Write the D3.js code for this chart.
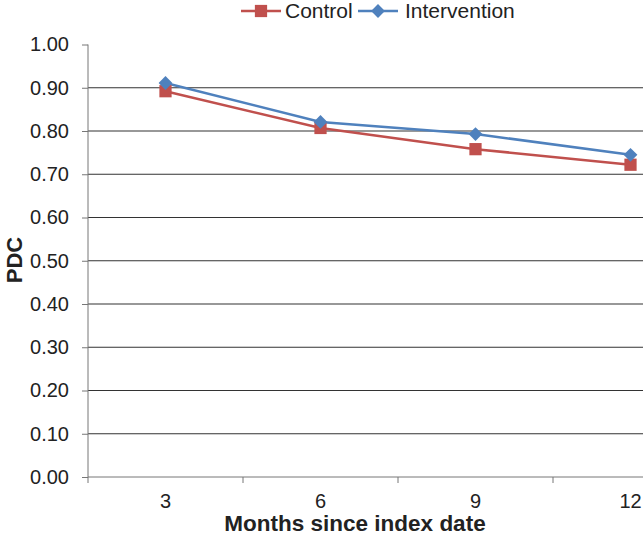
<!DOCTYPE html>
<html>
<head>
<meta charset="utf-8">
<script src="https://cdn.jsdelivr.net/npm/d3@7"></script>
<style>
body{margin:0;background:#fff;}
text{font-family:"Liberation Sans",Arial,sans-serif;fill:#222;}
</style>
</head>
<body>
<div id="chart"></div>
<script>
var months = ["3","6","9","12"];
var control = [0.892, 0.807, 0.758, 0.722];
var intervention = [0.911, 0.821, 0.793, 0.745];
var yTicks = [0,0.1,0.2,0.3,0.4,0.5,0.6,0.7,0.8,0.9,1.0];

var width = 643, height = 536;
var svg = d3.select("#chart").append("svg").attr("width",width).attr("height",height);

// plot runs past the right edge, like the cropped original
var x = d3.scaleBand().domain(months).range([88, 708]);
var y = d3.scaleLinear().domain([0,1]).range([477, 44.5]);

// gridlines
svg.append("g").selectAll("line").data(yTicks.slice(1,-1)).enter().append("line")
	.attr("x1",88).attr("x2",width)
	.attr("y1",function(d){return y(d)}).attr("y2",function(d){return y(d)})
	.attr("stroke","#333").attr("stroke-width",1.2);

var yAxis = svg.append("g").attr("transform","translate(88,0)")
	.call(d3.axisLeft(y).tickValues(yTicks).tickSize(6).tickPadding(13).tickFormat(d3.format(".2f")));
yAxis.selectAll("text").style("font-size","20px").attr("fill","#222");
yAxis.selectAll("line").attr("stroke","#777");
yAxis.select(".domain").attr("stroke","#777").attr("d","M0,44.5V477");

var xAxis = svg.append("g").attr("transform","translate(0,477)")
	.call(d3.axisBottom(x).tickSize(0).tickPadding(17));
xAxis.selectAll("text").style("font-size","20px").attr("fill","#222");
xAxis.select(".domain").attr("stroke","#777").attr("d","M88,0H"+width);
// band boundary ticks
xAxis.append("g").selectAll("line").data(months).enter().append("line")
	.attr("x1",function(d){return x(d)}).attr("x2",function(d){return x(d)})
	.attr("y1",0).attr("y2",6).attr("stroke","#777");

svg.append("text").attr("x",355).attr("y",531).attr("text-anchor","middle")
	.style("font-size","22.5px").style("font-weight","bold").text("Months since index date");
svg.append("text").attr("transform","translate(22,260) rotate(-90)").attr("text-anchor","middle")
	.style("font-size","22px").style("font-weight","bold").text("PDC");

var cx = function(d,i){return x(months[i]) + x.bandwidth()/2};
var line = d3.line().x(function(d,i){return cx(d,i)}).y(function(d){return y(d)});

var red = "#C0504D", blue = "#4F81BD";

svg.append("path").datum(control).attr("d",line).attr("fill","none").attr("stroke",red).attr("stroke-width",2.5);
svg.append("path").datum(intervention).attr("d",line).attr("fill","none").attr("stroke",blue).attr("stroke-width",2.5);

var sq = d3.symbol().type(d3.symbolSquare).size(150);
var dm = d3.symbol().type(d3.symbolSquare).size(95); // rotated 45deg below

svg.append("g").selectAll("path").data(control).enter().append("path")
	.attr("d",sq).attr("fill",red)
	.attr("transform",function(d,i){return "translate("+cx(d,i)+","+y(d)+")"});
svg.append("g").selectAll("path").data(intervention).enter().append("path")
	.attr("d",dm).attr("fill",blue)
	.attr("transform",function(d,i){return "translate("+cx(d,i)+","+y(d)+") rotate(45)"});

// legend
var lg = svg.append("g");
lg.append("line").attr("x1",241).attr("x2",281).attr("y1",11).attr("y2",11).attr("stroke",red).attr("stroke-width",2.5);
lg.append("path").attr("d",sq).attr("fill",red).attr("transform","translate(261,11)");
lg.append("text").attr("x",285).attr("y",18).style("font-size","21px").text("Control");
lg.append("line").attr("x1",358).attr("x2",398).attr("y1",11).attr("y2",11).attr("stroke",blue).attr("stroke-width",2.5);
lg.append("path").attr("d",dm).attr("fill",blue).attr("transform","translate(378,11) rotate(45)");
lg.append("text").attr("x",405).attr("y",18).style("font-size","21px").text("Intervention");
</script>
</body>
</html>
